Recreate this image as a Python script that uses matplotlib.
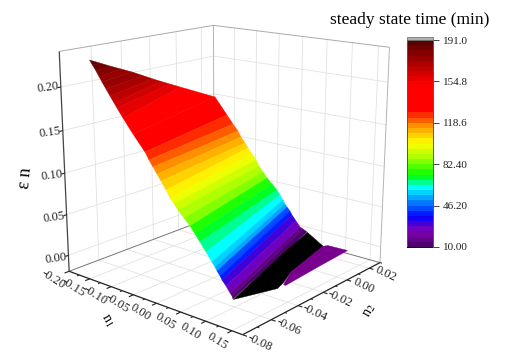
import matplotlib
matplotlib.use('Agg')
from matplotlib import pyplot as plt
from matplotlib.cm import ScalarMappable
from matplotlib.colors import LinearSegmentedColormap, Normalize
from matplotlib.patches import Rectangle
from mpl_toolkits.mplot3d import proj3d
from mpl_toolkits.mplot3d.art3d import Poly3DCollection

plt.rcParams['font.family'] = ['Liberation Serif', 'DejaVu Serif']
plt.rcParams['mathtext.fontset'] = 'stix'

n1_ticks = [-0.20, -0.15, -0.10, -0.05, 0.00, 0.05, 0.10, 0.15]
n2_ticks = [-0.08, -0.06, -0.04, -0.02, 0.00, 0.02]
en_ticks = [0.00, 0.05, 0.10, 0.15, 0.20]
time_ticks = [10.0, 46.2, 82.4, 118.6, 154.8, 191.0]
time_labels = ['10.00', '46.20', '82.40', '118.6', '154.8', '191.0']

time_rows = [191, 187, 183, 179, 175, 171, 167, 163, 160, 155, 142, 130, 125, 120, 115, 110, 105, 100, 95, 90, 85, 80, 75, 70, 65, 61, 55, 50, 42, 35, 28, 20, 15, 10]
n2_left = -0.07
n1_left = [-0.168, -0.161, -0.154, -0.1476, -0.1412, -0.1327, -0.1242, -0.1155, -0.1093, -0.0967, -0.0757, -0.0507, -0.0425, -0.0343, -0.0261, -0.018, -0.0078, 0.0002, 0.0083, 0.0164, 0.0285, 0.0405, 0.0504, 0.0602, 0.072, 0.0837, 0.0896, 0.0935, 0.0993, 0.1032, 0.1109, 0.1186, 0.1224, 0.1243]
en_left = [0.2298, 0.2243, 0.2187, 0.2131, 0.2075, 0.2005, 0.1935, 0.1865, 0.1815, 0.1716, 0.1561, 0.1389, 0.131, 0.1242, 0.1174, 0.1107, 0.102, 0.0942, 0.0887, 0.0832, 0.0761, 0.069, 0.0616, 0.0543, 0.0451, 0.036, 0.0314, 0.0276, 0.0231, 0.0193, 0.0141, 0.0077, 0.0051, 0.0021]
n1_right = [-0.168, -0.1739, -0.1797, -0.1845, -0.1893, -0.1922, -0.1951, -0.1964, -0.1977, -0.1986, -0.1968, -0.1678, -0.1534, -0.1414, -0.1343, -0.1248, -0.1177, -0.1082, -0.0988, -0.0918, -0.0824, -0.0731, -0.0615, -0.05, -0.0431, -0.0362, -0.0316, -0.027, -0.0202, -0.0156, -0.0065, 0.0026, 0.0092, 0.0181]
n2_right = [-0.07, -0.0618, -0.0537, -0.0449, -0.0361, -0.0278, -0.0194, -0.0127, -0.0059, 0.0021, 0.03, 0.03, 0.03, 0.03, 0.03, 0.03, 0.03, 0.03, 0.03, 0.03, 0.03, 0.03, 0.03, 0.03, 0.03, 0.03, 0.03, 0.03, 0.03, 0.03, 0.03, 0.03, 0.03, 0.03]
en_right = [0.2298, 0.2232, 0.2166, 0.2097, 0.2028, 0.1954, 0.1879, 0.1821, 0.1764, 0.1696, 0.146, 0.1249, 0.1144, 0.1064, 0.0992, 0.0923, 0.0865, 0.0796, 0.0728, 0.0657, 0.0589, 0.0521, 0.0457, 0.0393, 0.0336, 0.0279, 0.0233, 0.0199, 0.0156, 0.011, 0.0044, -0.0022, -0.0038, -0.0063]
black_n1 = [0.1243, 0.11, 0.1043, 0.101, 0.1011, 0.1047, 0.1063, 0.1078]
black_n2 = [-0.07, -0.0402, -0.0218, -0.0051, 0.0089, -0.02, -0.0261, -0.0314]
black_en = [0.0021, 0.0135, 0.0225, 0.0302, 0.0035, -0.0078, -0.0152, -0.0182]
purple_n1 = [0.1064, 0.1047, 0.1011, 0.1012, 0.1033, 0.1021, 0.106]
purple_n2 = [-0.0261, -0.02, 0.0081, 0.0125, 0.03, 0.0063, -0.0244]
purple_en = [-0.0176, -0.0078, 0.0041, 0.0024, -0.0156, -0.0186, -0.0202]

XL = (-0.20, 0.17)
YL = (-0.08, 0.03)
ZL = (-0.02, 0.24)
W, H = 512, 361
side = 381.2
left = 30.53
bottom = 3.85
dark = '#222222'

fig = plt.figure(figsize=(W / 100, H / 100), dpi=100)
ax = fig.add_axes([left / W, bottom / H, side / W, side / H], projection='3d', computed_zorder=False)
ax.set_xlim(XL)
ax.set_ylim(YL)
ax.set_zlim(ZL)
ax.view_init(elev=15.876, azim=-49.715)
ax.set_proj_type('persp', focal_length=0.4951)
ax.set_box_aspect((1, 0.9853, 0.9881))
ax.set_axis_off()

colors = ['#50006e', '#8200b4', '#0000ff', '#0078ff', '#00ffff', '#00ff00', '#aaff00', '#ffff00', '#ff9600', '#ff0000', '#ff0000', '#b40000', '#5a0000']
stops = [10, 22, 35, 47, 61, 72, 88, 101, 116, 130, 153, 170, 191]
norm = Normalize(10, 191)
cmap = LinearSegmentedColormap.from_list('rainbow_time', [((s - 10) / 181, c) for s, c in zip(stops, colors)], N=40)


def seg(p, q, color, lw, z=1):
    ax.plot([p[0], q[0]], [p[1], q[1]], [p[2], q[2]], color=color, lw=lw, zorder=z, solid_capstyle='butt')


def label(x, y, z, s, rot):
    u, v, _ = proj3d.proj_transform(x, y, z, ax.get_proj())
    ax.text2D(u, v, s, transform=ax.transData, fontsize=9, rotation=rot, ha='center', va='center', color=dark, zorder=7)


grid = '#e2e2e2'
for v in en_ticks:
    seg((XL[0], YL[0], v), (XL[0], YL[1], v), grid, 0.6)
    seg((XL[0], YL[1], v), (XL[1], YL[1], v), grid, 0.6)
for v in n2_ticks[1:]:
    seg((XL[0], v, ZL[0]), (XL[0], v, ZL[1]), grid, 0.6)
    seg((XL[0], v, ZL[0]), (XL[1], v, ZL[0]), grid, 0.6)
for v in n1_ticks[1:]:
    seg((v, YL[1], ZL[0]), (v, YL[1], ZL[1]), grid, 0.6)
    seg((v, YL[0], ZL[0]), (v, YL[1], ZL[0]), grid, 0.6)

seg((XL[0], YL[1], ZL[0]), (XL[0], YL[1], ZL[1]), '#b4b4b4', 0.7)
seg((XL[1], YL[1], ZL[0]), (XL[1], YL[1], ZL[1]), '#b4b4b4', 0.7)
seg((XL[0], YL[0], ZL[1]), (XL[0], YL[1], ZL[1]), '#aaaaaa', 0.7)
seg((XL[0], YL[1], ZL[1]), (XL[1], YL[1], ZL[1]), '#aaaaaa', 0.7)
seg((XL[0], YL[0], ZL[0]), (XL[0], YL[1], ZL[0]), '#777777', 0.7)
seg((XL[0], YL[1], ZL[0]), (XL[1], YL[1], ZL[0]), '#777777', 0.7)
seg((XL[0], YL[0], ZL[0]), (XL[0], YL[0], ZL[1]), '#444444', 0.9, 6)
seg((XL[0], YL[0], ZL[0]), (XL[1], YL[0], ZL[0]), dark, 0.9, 6)
seg((XL[1], YL[0], ZL[0]), (XL[1], YL[1], ZL[0]), dark, 0.9, 6)

for v in n1_ticks:
    seg((v, YL[0], ZL[0]), (v, YL[0] - 0.003, ZL[0]), dark, 0.8, 6)
    if v + 0.025 < XL[1]:
        seg((v + 0.025, YL[0], ZL[0]), (v + 0.025, YL[0] - 0.0015, ZL[0]), dark, 0.7, 6)
    label(v + 0.006, YL[0] - 0.012, ZL[0], f'{v:.2f}', -32)
for v in n2_ticks:
    seg((XL[1], v, ZL[0]), (XL[1] + 0.008, v, ZL[0]), dark, 0.8, 6)
    seg((XL[1], v + 0.01, ZL[0]), (XL[1] + 0.004, v + 0.01, ZL[0]), dark, 0.7, 6)
    label(XL[1] + 0.034, v - 0.001, ZL[0], f'{v:.2f}', -25)
for v in en_ticks:
    seg((XL[0], YL[0], v), (XL[0], YL[0] - 0.002, v), dark, 0.8, 6)
    label(XL[0], YL[0] - 0.008, v + 0.002, f'{v:.2f}', 8)

quads, face = [], []
for i in range(len(time_rows) - 1):
    quads.append([(n1_left[i], n2_left, en_left[i]), (n1_right[i], n2_right[i], en_right[i]),
                  (n1_right[i + 1], n2_right[i + 1], en_right[i + 1]), (n1_left[i + 1], n2_left, en_left[i + 1])])
    face.append(cmap(norm((time_rows[i] + time_rows[i + 1]) / 2)))
ax.add_collection3d(Poly3DCollection(quads, facecolors=face, edgecolors=face, linewidths=0.3, zorder=3))
ax.add_collection3d(Poly3DCollection([list(zip(black_n1, black_n2, black_en))], facecolors='black', edgecolors='black', linewidths=0.3, zorder=4))
ax.add_collection3d(Poly3DCollection([list(zip(purple_n1, purple_n2, purple_en))], facecolors='#78008c', edgecolors='#78008c', linewidths=0.3, zorder=5))

fig.text(25 / W, 1 - 178 / H, '\u03b5 n', fontsize=13, rotation=85, ha='center', va='center')
fig.text(107 / W, 1 - 320 / H, 'n$_1$', fontsize=10, rotation=-60, ha='center', va='center')
fig.text(370 / W, 1 - 311 / H, 'n$_2$', fontsize=10, rotation=60, ha='center', va='center')
fig.text(410 / W, 1 - 20 / H, 'steady state time (min)', fontsize=12.5, ha='center', va='center')

cax = fig.add_axes([407 / W, 1 - 247 / H, 26 / W, 207 / H])
cbar = fig.colorbar(ScalarMappable(norm=norm, cmap=cmap), cax=cax, ticks=time_ticks)
cbar.ax.set_yticklabels(time_labels, fontsize=8, color=dark)
cbar.ax.tick_params(length=4, width=0.7, color='#444444', pad=3)
cbar.outline.set_edgecolor('#555555')
cbar.outline.set_linewidth(0.7)
fig.add_artist(Rectangle((407 / W, 1 - 40 / H), 26 / W, 3 / H, transform=fig.transFigure, facecolor='#b0b0b0', edgecolor='#666666', lw=0.5))
fig.add_artist(Rectangle((407 / W, 1 - 248 / H), 26 / W, 1.5 / H, transform=fig.transFigure, facecolor='black', edgecolor='none'))

fig.savefig('out.png', dpi=100)
